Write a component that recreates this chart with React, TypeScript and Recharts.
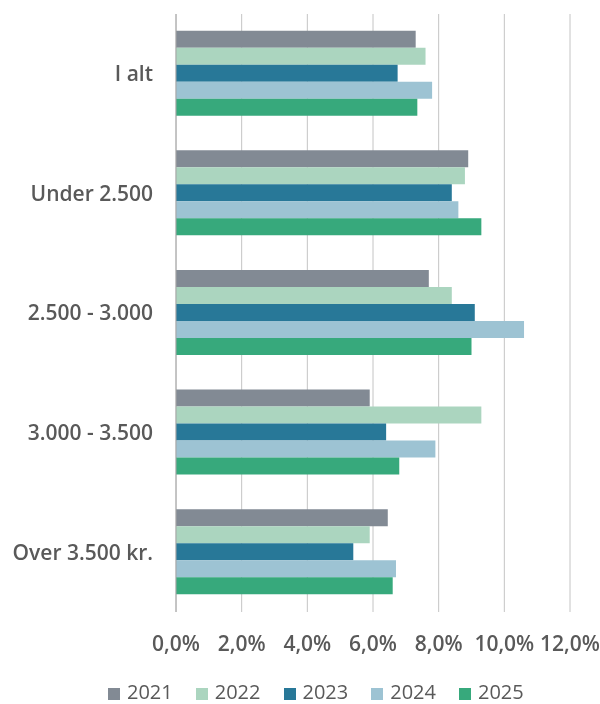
import React from 'react';
import { BarChart, Bar, XAxis, YAxis, CartesianGrid, Legend } from 'recharts';

const categories = ['I alt', 'Under 2.500', '2.500 - 3.000', '3.000 - 3.500', 'Over 3.500 kr.'];
const years = ['2021', '2022', '2023', '2024', '2025'];
const values2021 = [7.3, 8.9, 7.7, 5.9, 6.45];
const values2022 = [7.6, 8.8, 8.4, 9.3, 5.9];
const values2023 = [6.75, 8.4, 9.1, 6.4, 5.4];
const values2024 = [7.8, 8.6, 10.6, 7.9, 6.7];
const values2025 = [7.35, 9.3, 9.0, 6.8, 6.6];
const xTicks = [0, 2, 4, 6, 8, 10, 12];

const COLORS: Record<string, string> = {
  '2021': '#828A94',
  '2022': '#ABD5BF',
  '2023': '#287898',
  '2024': '#9DC3D3',
  '2025': '#37A97C',
};

const data = categories.map((name, i) => ({
  name,
  '2021': values2021[i],
  '2022': values2022[i],
  '2023': values2023[i],
  '2024': values2024[i],
  '2025': values2025[i],
}));

const FONT = '"Open Sans", sans-serif';
const TEXT = '#595959';

const pct = (v: number) => `${v.toFixed(1).replace('.', ',')}%`;

const YearLegend = () => (
  <div
    style={{
      height: 30,
      paddingBottom: 2,
      boxSizing: 'border-box',
      display: 'flex',
      alignItems: 'flex-end',
      fontFamily: FONT,
      fontSize: 20,
      lineHeight: '20px',
      color: TEXT,
    }}
  >
    {years.map((y) => (
      <div key={y} style={{ display: 'flex', alignItems: 'center', marginRight: 23 }}>
        <span style={{ width: 12, height: 12, background: COLORS[y], marginRight: 7, marginTop: 3 }} />
        <span>{y}</span>
      </div>
    ))}
  </div>
);

export default function App() {
  return (
    <div style={{ position: 'fixed', top: 0, left: 0 }}>
      <BarChart
        width={600}
        height={704}
        data={data}
        layout="vertical"
        margin={{ top: 14, right: 30, bottom: 0, left: 0 }}
        barCategoryGap="14%"
        barGap={0}
      >
        <CartesianGrid horizontal={false} stroke="#C4C4C4" />
        <XAxis
          type="number"
          domain={[0, 12]}
          ticks={xTicks}
          tickFormatter={pct}
          axisLine={false}
          tickLine={false}
          tickSize={0}
          tickMargin={24}
          height={62}
          interval={0}
          tick={{ fill: TEXT, fontSize: 21, fontWeight: 600, fontFamily: FONT }}
        />
        <YAxis
          type="category"
          dataKey="name"
          width={176}
          axisLine={{ stroke: '#A6A6A6' }}
          tickLine={false}
          tickSize={0}
          tickMargin={23}
          interval={0}
          tick={{ fill: TEXT, fontSize: 21, fontWeight: 600, fontFamily: FONT }}
        />
        <Legend
          verticalAlign="bottom"
          align="left"
          content={<YearLegend />}
          wrapperStyle={{ left: 108 }}
        />
        {years.map((y) => (
          <Bar key={y} dataKey={y} fill={COLORS[y]} isAnimationActive={false} />
        ))}
      </BarChart>
    </div>
  );
}
